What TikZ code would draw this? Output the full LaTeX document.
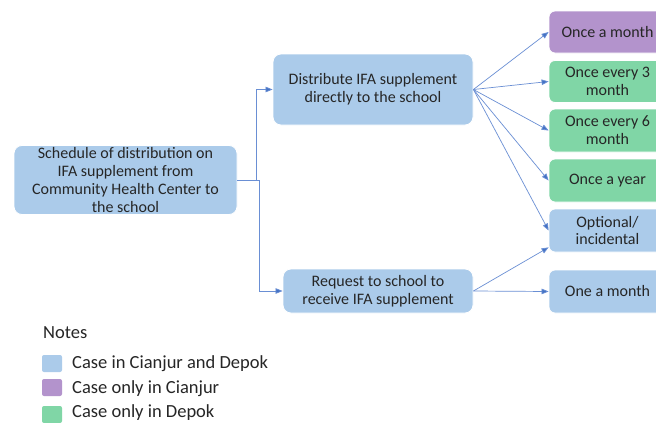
\documentclass[tikz,border=0pt]{standalone}
\usepackage{fontspec}
\setmainfont{Carlito}
\usetikzlibrary{arrows.meta,calc}
\definecolor{bothcase}{HTML}{ABCBEA}
\definecolor{cianjur}{HTML}{B393CC}
\definecolor{depok}{HTML}{80D6A6}
\definecolor{linkblue}{HTML}{6A8FD4}
\definecolor{tipblue}{HTML}{4472C4}
\definecolor{ink}{HTML}{262626}
\begin{document}
\begin{tikzpicture}[x=1pt,y=-1pt,
  every node/.style={font=\fontsize{16}{17.7}\selectfont, text=ink},
  box/.style={draw=white, line width=0.8pt, rounded corners=8pt, align=center, inner sep=2pt},
  opt/.style={box, rounded corners=6pt, minimum width=117pt},
  conn/.style={draw=linkblue, line width=0.7pt, -{Triangle[length=7pt,width=5.5pt,fill=tipblue]}},
  swatch/.style={draw=none, rounded corners=2pt, minimum width=20pt, minimum height=17pt, inner sep=0pt},
  legtext/.style={anchor=west, inner sep=0pt, font=\fontsize{18.5}{20}\selectfont}]
\clip (0,0) rectangle (656,423);
\fill[white] (0,0) rectangle (656,423);

% main steps
\node[box, fill=bothcase, minimum width=223pt, minimum height=69pt] (root) at (125.5,180)
  {Schedule of distribution on\\IFA supplement from\\Community Health Center to\\the school};
\node[box, fill=bothcase, minimum width=200pt, minimum height=71pt] (dist) at (373,89.5)
  {Distribute IFA supplement\\directly to the school};
\node[box, fill=bothcase, minimum width=190pt, minimum height=44pt] (req) at (378,291)
  {Request to school to\\receive IFA supplement};

% schedule options
\node[opt, fill=cianjur, minimum height=42pt] (m1) at (607.5,32) {Once a month};
\node[opt, fill=depok, minimum height=42pt] (m3) at (607.5,81.5) {Once every 3\\month};
\node[opt, fill=depok, minimum height=43pt] (m6) at (607.5,130.5) {Once every 6\\month};
\node[opt, fill=depok, minimum height=43pt] (yr) at (607.5,180.5) {Once a year};
\node[opt, fill=bothcase, minimum height=43pt] (optl) at (607.5,230.5) {Optional/\\incidental};
\node[opt, fill=bothcase, minimum height=43pt] (one) at (607.5,291.5) {One a month};

% connectors
\coordinate (split) at ($(root.east)+(19,0)$);
\draw[conn] (root.east) -- ++(22,0) |- (req.west);
\draw[conn] (split) |- (dist.west);
\draw[conn] (dist.east) -- (m1.west);
\draw[conn] (dist.east) -- (m3.west);
\draw[conn] (dist.east) -- (m6.west);
\draw[conn] (dist.east) -- (yr.west);
\draw[conn] (dist.east) -- (optl.west);
\coordinate (optin) at ($(optl.south west)+(0,-5)$);
\draw[conn] (req.east) -- (optin);
\draw[conn] (req.east) -- (one.west);

% legend
\node[legtext] (notes) at (43,333) {Notes};
\node[swatch, fill=bothcase] (s1) at (52,363.5) {};
\node[swatch, fill=cianjur] (s2) at (52,387.5) {};
\node[swatch, fill=depok] (s3) at (52,414.5) {};
\node[legtext] (t1) at (72,364) {Case in Cianjur and Depok};
\node[legtext] (t2) at (72,389) {Case only in Cianjur};
\node[legtext] (t3) at (72,413) {Case only in Depok};
\end{tikzpicture}
\end{document}
